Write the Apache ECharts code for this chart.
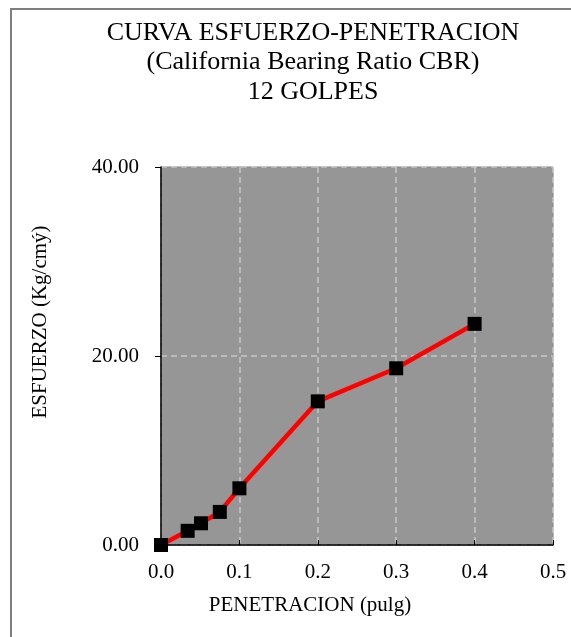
<!DOCTYPE html>
<html><head><meta charset="utf-8">
<script src="https://cdn.jsdelivr.net/npm/echarts@6/dist/echarts.min.js"></script>
<style>html,body{margin:0;padding:0;background:#fff}#c{width:571px;height:637px}</style>
</head><body><div id="c"></div>
<script>
var penetracion = [0, 0.034, 0.051, 0.075, 0.1, 0.2, 0.3, 0.4];
var esfuerzo = [0, 1.5, 2.3, 3.5, 6.0, 15.2, 18.7, 23.4];
var titleLines = ['CURVA ESFUERZO-PENETRACION', '(California Bearing Ratio CBR)', '12 GOLPES'];
var xName = 'PENETRACION (pulg)';
var yName = 'ESFUERZO (Kg/cmý)';
var F = '"Liberation Serif","Times New Roman",serif';
var chart = echarts.init(document.getElementById('c'));
chart.setOption({
  backgroundColor: '#fff',
  animation: false,
  title: {
    text: titleLines.join('\n'), left: 308, top: 13, textAlign: 'center',
    textStyle: {fontFamily: F, fontSize: 26, fontWeight: 'normal', color: '#000', lineHeight: 29.5}
  },
  graphic: [
    {type: 'rect', shape: {x: 11, y: 9, width: 600, height: 700}, style: {fill: 'none', stroke: '#7f7f7f', lineWidth: 2}},
    {type: 'text', x: 310, y: 605, style: {text: xName, font: '21px ' + F, fill: '#000', textAlign: 'center', textVerticalAlign: 'middle'}},
    {type: 'text', x: 40, y: 322, rotation: Math.PI / 2, style: {text: yName, font: '21px ' + F, fill: '#000', textAlign: 'center', textVerticalAlign: 'middle'}}
  ],
  grid: {left: 161, top: 167, right: 18, bottom: 92, show: true, backgroundColor: '#969696', borderColor: '#808080', borderWidth: 1},
  xAxis: {
    type: 'value', min: 0, max: 0.5, interval: 0.1,
    axisLine: {show: true, lineStyle: {color: '#000', width: 1.5}},
    axisTick: {show: true, inside: true, length: 5, lineStyle: {color: '#000'}},
    axisLabel: {fontFamily: F, fontSize: 21, color: '#000', margin: 17, formatter: function(v){return v.toFixed(1);}},
    splitLine: {show: true, lineStyle: {color: '#c8c8c8', type: [6, 4], width: 1.5}}
  },
  yAxis: {
    type: 'value', min: 0, max: 40, interval: 20,
    axisLine: {show: true, lineStyle: {color: '#000', width: 1.5}},
    axisTick: {show: true, inside: false, length: 6, lineStyle: {color: '#000'}},
    axisLabel: {fontFamily: F, fontSize: 21, color: '#000', margin: 22, formatter: function(v){return v.toFixed(2);}},
    splitLine: {show: true, lineStyle: {color: '#c8c8c8', type: [6, 4], width: 1.5}}
  },
  series: [{
    type: 'line',
    data: penetracion.map(function(x, i){return [x, esfuerzo[i]];}),
    lineStyle: {color: '#ff0000', width: 4.5},
    symbol: 'rect', symbolSize: 14,
    itemStyle: {color: '#000', borderWidth: 0},
    clip: false
  }]
});
</script></body></html>
